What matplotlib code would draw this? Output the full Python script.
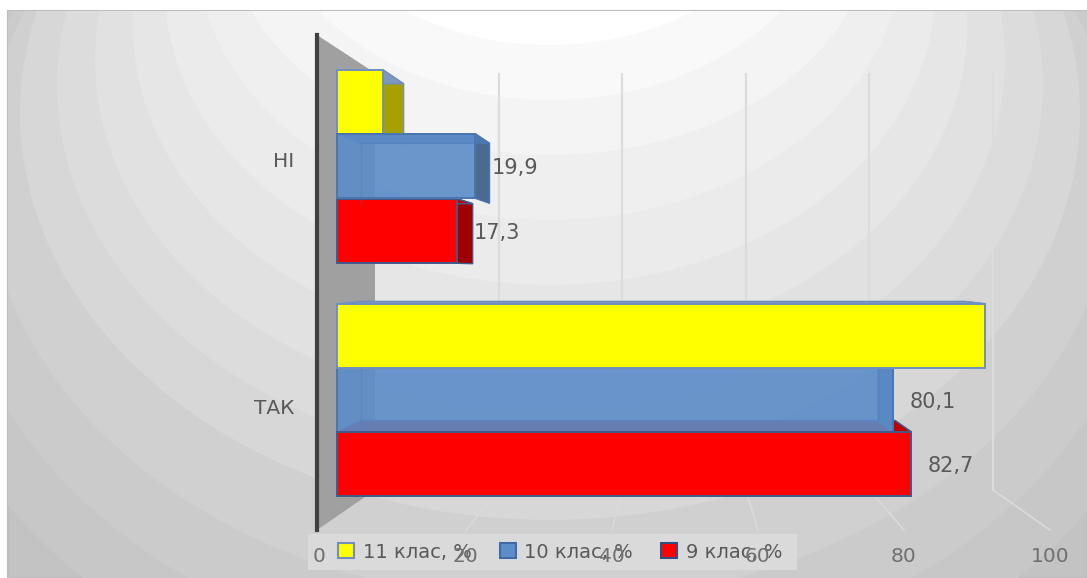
import matplotlib
matplotlib.use('Agg')
import matplotlib.pyplot as plt
from matplotlib.patches import Ellipse, Rectangle, Patch

# дані
categories = ['ТАК', 'НІ']
class_9 = [82.7, 17.3]
class_10 = [80.1, 19.9]
class_11 = [93.4, 6.6]
series_names = ['11 клас, %', '10 клас, %', '9 клас, %']
x_ticks = [0, 20, 40, 60, 80, 100]
x_tick_labels = ['0', '20', '40', '60', '80', '100']
labels_9 = ['82,7', '17,3']
labels_10 = ['80,1', '19,9']

W, H = 1087, 578
fig = plt.figure(figsize=(W / 100, H / 100), dpi=100, facecolor='white')

# фон: кільця градієнта
bg = fig.add_axes([0, 0, 1, 1])
bg.set_xlim(0, W)
bg.set_ylim(H, 0)
bg.axis('off')
frame = Rectangle((8, 11), W - 8, H - 11, facecolor='#c3c3c3', edgecolor='#bdbdbd', lw=1.5)
bg.add_patch(frame)
rings = [(640, 480, 250, '#c7c7c7'), (600, 455, 215, '#cbcbcb'), (565, 432, 170, '#d0d0d0'),
         (530, 407, 113, '#d7d7d7'), (493, 378, 85, '#dcdcdc'), (455, 350, 60, '#e1e1e1'),
         (417, 321, 27, '#e6e6e6'), (385, 295, -10, '#ebebeb'), (353, 271, -51, '#efefef'),
         (322, 230, -75, '#f4f4f4'), (285, 215, -115, '#f9f9f9'), (255, 195, -150, '#ffffff')]
for a, b, cy, col in rings:
    e = Ellipse((550, cy), 2 * a, 2 * b, facecolor=col, edgecolor='none')
    bg.add_patch(e)
    e.set_clip_path(frame)

# стінка і сітка
bg.fill([317, 375, 375, 317], [35, 73, 490, 530], color='#a0a0a0', lw=0)
for v in x_ticks[1:]:
    bx = 375 + 6.18 * v
    fx = 320 + 7.3 * v
    bg.plot([bx, bx], [74, 490], color='#dcdcdc', lw=1.6)
    bg.plot([bx, fx], [490, 530], color='#dadada', lw=1.2)

# основні осі
left_px = 317
ppu = 6.94
ax = fig.add_axes([left_px / W, 0, 1 - left_px / W, 1])
ax.patch.set_alpha(0)
ax.set_xlim((left_px - 337) / ppu, (W - 337) / ppu)
ax.set_ylim((400 - 578) / 233.5, 400 / 233.5)
for s in ['top', 'right', 'bottom']:
    ax.spines[s].set_visible(False)
ax.spines['left'].set_color('#404040')
ax.spines['left'].set_linewidth(3)
ax.spines['left'].set_bounds((400 - 530) / 233.5, (400 - 35) / 233.5)
ax.xaxis.set_visible(False)
ax.set_yticks([-0.026, 1.03], categories, fontsize=14.5, color='#595959')
ax.tick_params(axis='y', length=0, pad=16.5)

vp_x, vp_y = (680 - 337) / ppu, (400 - 270) / 233.5
h = 64.5 / 233.5


def back(x, y):
    return x + 0.07 * (vp_x - x), y + 0.07 * (vp_y - y)


def box(val, yc, col, edge, side, top, z, zfront, alpha=1.0):
    y0, y1 = yc - h / 2, yc + h / 2
    bx, by0 = back(val, y0)
    bx, by1 = back(val, y1)
    b0, _ = back(0, y0)
    ax.fill([val, bx, bx, val], [y1, by1, by0, y0], color=side, ec=edge, lw=1, zorder=z)
    ax.fill([0, val, bx, b0], [y1, y1, by1, by1], color=top, ec=edge, lw=1, zorder=z)
    ax.barh(yc, val, height=h, color=col, alpha=alpha, zorder=zfront)
    ax.barh(yc, val, height=h, fill=False, edgecolor=edge, lw=1.4, zorder=zfront)
    if alpha < 1:
        ax.plot([b0, b0, bx, bx], [by0, by1, by1, by0], color=edge, lw=1, alpha=0.3, zorder=zfront)


# i = 0 ТАК, i = 1 НІ
y_pos = [0, 1]
centers_9 = [(400 - 464) / 233.5, (400 - 231) / 233.5]
centers_10 = [0, (400 - 166) / 233.5]
centers_11 = [(400 - 336) / 233.5, (400 - 102) / 233.5]

z_11 = [(5, 5.5), (2, 2.5)]
z_9 = [(2, 5.2), (3, 3.5)]
z_10 = [(3, 3.5), (4, 4.5)]
for i in y_pos:
    box(class_11[i], centers_11[i], '#ffff00', '#6f8fc0', '#a8a000', '#7f97bd', *z_11[i])
    box(class_9[i], centers_9[i], '#ff0000', '#3f5a8c', '#a00000', '#c00000', *z_9[i])
    box(class_10[i], centers_10[i], '#5c8cc9', '#4a76b0', '#4a6a90', '#4f78ad', *z_10[i], alpha=0.9)

# підписи значень
gap = 17 / ppu
nudge = 2 / 233.5
for i in y_pos:
    ax.text(class_10[i] + gap, centers_10[i] - nudge, labels_10[i], fontsize=15,
            color='#595959', va='center', ha='left', zorder=7)
    ax.text(class_9[i] + gap, centers_9[i] - nudge, labels_9[i], fontsize=15,
            color='#595959', va='center', ha='left', zorder=7)

# легенда
fig.add_artist(Rectangle((308 / W, (H - 570) / H), 489 / W, 36 / H, transform=fig.transFigure,
                         facecolor='#dcdcdc', edgecolor='none', alpha=0.9, zorder=4))
handles = [Patch(facecolor='#ffff00', edgecolor='#6f8fc0', lw=1.5),
           Patch(facecolor='#5c8cc9', edgecolor='#3f6aa5', lw=1.5),
           Patch(facecolor='#ff0000', edgecolor='#2f4f80', lw=1.5)]
leg = fig.legend(handles, series_names, ncols=3, loc='center left',
                 bbox_to_anchor=(338 / W, (H - 552) / H), borderaxespad=0, borderpad=0,
                 fontsize=14, handlelength=0.82, handleheight=0.8, handletextpad=0.45,
                 columnspacing=1.45, frameon=False, labelcolor='#595959')

# підписи осі X поверх легенди
tick_ax = fig.add_axes([319 / W, (H - 547) / H, 731 / W, 0.001], zorder=6)
tick_ax.patch.set_alpha(0)
tick_ax.set_xlim(0, 100)
tick_ax.set_yticks([])
for s in tick_ax.spines.values():
    s.set_visible(False)
tick_ax.set_xticks(x_ticks, x_tick_labels, fontsize=14.5, color='#707070')
tick_ax.tick_params(axis='x', length=0, pad=0)

fig.savefig('out.png', dpi=100)
